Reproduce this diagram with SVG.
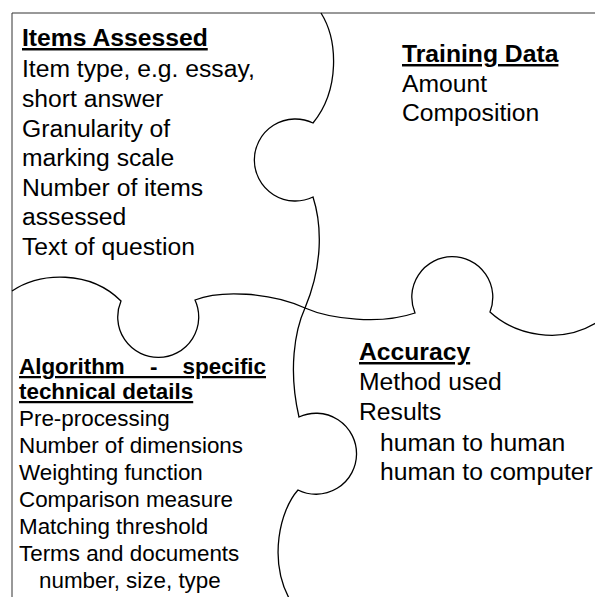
<svg xmlns="http://www.w3.org/2000/svg" width="595" height="597" viewBox="0 0 595 597">
  <style>
    .frame { fill: none; stroke: #333; stroke-width: 1; }
    .edge { fill: none; stroke: #000; stroke-width: 1.3; stroke-linejoin: miter; }
    text { font-family: "Liberation Sans", Arial, sans-serif; fill: #000; }
    .big { font-size: 24.7px; }
    .small { font-size: 22.4px; }
    .head { font-weight: bold; text-decoration: underline; }
  </style>

  <rect width="595" height="597" fill="#fff"/>

  <!-- outer frame: top and left border -->
  <path class="frame" d="M12,597 V13 H595"/>

  <!-- jigsaw outlines between the four pieces -->
  <g id="outlines">
    <!-- vertical seam -->
    <path class="edge" d="M321,13 C338,40 340,90 313,123 A41 41 0 1 0 313,197 C322,225 323,265 305,308 C295,330 288,370 299,417 A40.5 40.5 0 1 1 298,490 C280,510 268,560 290,600"/>
    <!-- horizontal seam -->
    <path class="edge" d="M12,291 C40,272 90,270 121,301 A40.5 40.5 0 1 0 195,300 C220,290 270,292 305,308 C330,319 380,325 415,313 A40.5 40.5 0 1 1 490,312 C515,335 560,345 596,323"/>
  </g>

  <g id="items-assessed">
    <text class="big head" x="22" y="46">Items Assessed</text>
    <text class="big" x="22" y="77">Item type, e.g. essay,</text>
    <text class="big" x="22" y="107">short answer</text>
    <text class="big" x="22" y="137">Granularity of</text>
    <text class="big" x="22" y="166">marking scale</text>
    <text class="big" x="22" y="196">Number of items</text>
    <text class="big" x="22" y="225">assessed</text>
    <text class="big" x="22" y="255">Text of question</text>
  </g>

  <g id="training-data">
    <text class="big head" x="402" y="62">Training Data</text>
    <text class="big" x="402" y="92">Amount</text>
    <text class="big" x="402" y="121">Composition</text>
  </g>

  <g id="algorithm">
    <text class="small head" x="19" y="374" word-spacing="19">Algorithm - specific</text>
    <text class="small head" x="19" y="399">technical details</text>
    <text class="small" x="19" y="426">Pre-processing</text>
    <text class="small" x="19" y="453">Number of dimensions</text>
    <text class="small" x="19" y="480">Weighting function</text>
    <text class="small" x="19" y="507">Comparison measure</text>
    <text class="small" x="19" y="534">Matching threshold</text>
    <text class="small" x="19" y="561">Terms and documents</text>
    <text class="small" x="39" y="588">number, size, type</text>
  </g>

  <g id="accuracy">
    <text class="big head" x="359" y="360">Accuracy</text>
    <text class="big" x="359" y="390">Method used</text>
    <text class="big" x="359" y="420">Results</text>
    <text class="big" x="380" y="451">human to human</text>
    <text class="big" x="380" y="480">human to computer</text>
  </g>
</svg>
